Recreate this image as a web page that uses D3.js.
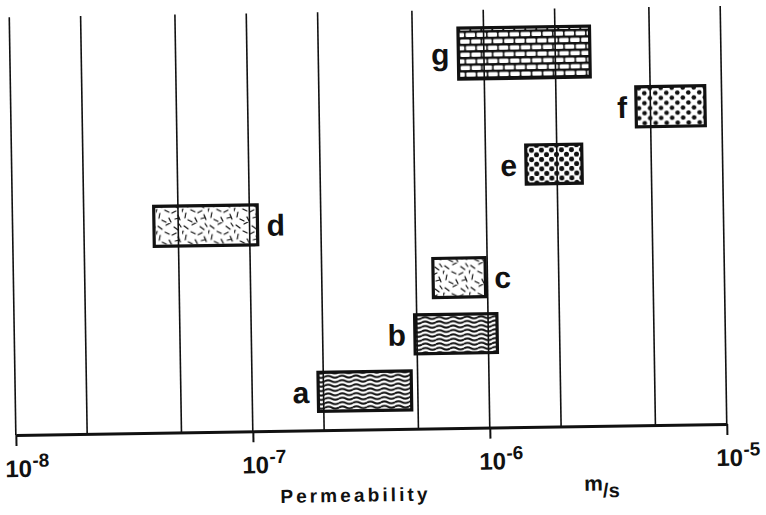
<!DOCTYPE html>
<html>
<head>
<meta charset="utf-8">
<script src="https://cdn.jsdelivr.net/npm/d3@7"></script>
<style>
  html, body { margin: 0; padding: 0; background: #fff; }
  svg { display: block; }
  text { font-family: "Liberation Sans", Arial, Helvetica, sans-serif; fill: #111; }
</style>
</head>
<body>
<svg id="chart" width="766" height="515"></svg>
<script>
// ---- data ----
const categories = ["a", "b", "c", "d", "e", "f", "g"];
const lowValues  = [1.9e-7, 4.9e-7, 5.9e-7, 3.95e-8, 1.48e-6, 4.35e-6, 7.8e-7];
const highValues = [4.7e-7, 1.09e-6, 9.8e-7, 1.08e-7, 2.55e-6, 8.5e-6, 2.8e-6];
const tickValues = [1e-8, 1e-7, 1e-6, 1e-5];
const tickExponents = ["-8", "-7", "-6", "-5"];
const gridValues = [1e-8, 2e-8, 5e-8, 1e-7, 2e-7, 5e-7, 1e-6, 2e-6, 5e-6, 1e-5];
const xTitle = "Permeability";
const unitMain = "m";
const unitRest = "/s";

// ---- layout / style ----
const axisY = 429.5, gridTop = 11.5;
const labelSide = { a: "left", b: "left", c: "right", d: "right", e: "left", f: "left", g: "left" };
const patternOf = { a: "wave", b: "wave", c: "straw", d: "straw", e: "dotsDense", f: "dots", g: "brick" };
const barH = { a: 39, b: 39, c: 39, d: 40, e: 39, f: 40, g: 51 };

const svg = d3.select("#chart");
const defs = svg.append("defs");

// wavy lines pattern
const pw = defs.append("pattern").attr("id", "wave").attr("patternUnits", "userSpaceOnUse")
  .attr("width", 14).attr("height", 4.4);
pw.append("rect").attr("width", 14).attr("height", 4.4).attr("fill", "#fff");
pw.append("path").attr("d", "M0,2.2 Q3.5,0.2 7,2.2 T14,2.2").attr("fill", "none")
  .attr("stroke", "#111").attr("stroke-width", 1.9);

// straw / random dash pattern
const ps = defs.append("pattern").attr("id", "straw").attr("patternUnits", "userSpaceOnUse")
  .attr("width", 26).attr("height", 22);
ps.append("rect").attr("width", 26).attr("height", 22).attr("fill", "#fff");
const strokes = [
  [2,3,6,6],[10,2,14,0],[18,4,22,7],[4,12,3,17],[9,9,13,11],[16,12,20,10],
  [22,14,24,19],[6,19,10,21],[13,17,15,21],[19,18,23,17],[1,8,0,11],[23,1,25,4]
];
strokes.forEach(s => ps.append("line").attr("x1", s[0]).attr("y1", s[1]).attr("x2", s[2]).attr("y2", s[3])
  .attr("stroke", "#111").attr("stroke-width", 1.2).attr("stroke-linecap", "round"));

// dot patterns
function dotPattern(id, w, h, r) {
  const p = defs.append("pattern").attr("id", id).attr("patternUnits", "userSpaceOnUse")
    .attr("width", w).attr("height", h);
  p.append("rect").attr("width", w).attr("height", h).attr("fill", "#fff");
  [[w / 4, h / 4], [3 * w / 4, 3 * h / 4]].forEach(c =>
    p.append("circle").attr("cx", c[0]).attr("cy", c[1]).attr("r", r).attr("fill", "#111"));
}
dotPattern("dotsDense", 10, 9.4, 2.5);
dotPattern("dots", 11, 10, 2.3);

// brick pattern
const pb = defs.append("pattern").attr("id", "brick").attr("patternUnits", "userSpaceOnUse")
  .attr("width", 22).attr("height", 13.2);
pb.append("rect").attr("width", 22).attr("height", 13.2).attr("fill", "#111");
[[1, 1.3], [12, 1.3], [-4.5, 7.9], [6.5, 7.9], [17.5, 7.9]].forEach(b =>
  pb.append("rect").attr("x", b[0]).attr("y", b[1]).attr("width", 9.5).attr("height", 4.3)
    .attr("rx", 1).attr("fill", "#fff"));

// ---- scales ----
const x = d3.scaleLog().domain([1e-8, 1e-5]).range([12.5, 723.5]);
const y = d3.scalePoint().domain(categories).range([391, 55]);

const g = svg.append("g").attr("transform", "rotate(-0.9, 370, 220)");

const bars = categories.map((c, i) => ({ c, lo: lowValues[i], hi: highValues[i] }));

// bar fills
g.append("g").selectAll("rect").data(bars).join("rect")
  .attr("x", d => x(d.lo)).attr("width", d => x(d.hi) - x(d.lo))
  .attr("y", d => y(d.c) - barH[d.c] / 2).attr("height", d => barH[d.c])
  .attr("fill", d => `url(#${patternOf[d.c]})`);

// grid lines
g.append("g").selectAll("line").data(gridValues).join("line")
  .attr("x1", d => x(d)).attr("x2", d => x(d))
  .attr("y1", gridTop).attr("y2", axisY)
  .attr("stroke", "#111").attr("stroke-width", 1.6);

// bar outlines
g.append("g").selectAll("rect").data(bars).join("rect")
  .attr("x", d => x(d.lo)).attr("width", d => x(d.hi) - x(d.lo))
  .attr("y", d => y(d.c) - barH[d.c] / 2).attr("height", d => barH[d.c])
  .attr("fill", "none").attr("stroke", "#111").attr("stroke-width", 3.2);

// bar letters
g.append("g").selectAll("text").data(bars).join("text")
  .attr("x", d => labelSide[d.c] === "left" ? x(d.lo) - 9 : x(d.hi) + 9)
  .attr("y", d => y(d.c) + 11)
  .attr("text-anchor", d => labelSide[d.c] === "left" ? "end" : "start")
  .attr("font-size", 30).attr("font-weight", "bold")
  .text(d => d.c);

// x axis
const axis = d3.axisBottom(x).tickValues(tickValues).tickSize(11).tickSizeOuter(0).tickFormat("");
const ax = g.append("g").attr("transform", `translate(0,${axisY})`).call(axis);
ax.select(".domain").attr("stroke", "#111").attr("stroke-width", 3);
ax.selectAll(".tick line").attr("stroke", "#111").attr("stroke-width", 2);

// tick labels 10^n
const tl = g.append("g").selectAll("text").data(tickValues).join("text")
  .attr("x", d => x(d) - 11).attr("y", axisY + 42)
  .attr("font-size", 24).attr("font-weight", "bold");
tl.append("tspan").text("10");
tl.append("tspan").attr("font-size", 19).attr("dy", -10).attr("dx", 0.5)
  .text((d, i) => tickExponents[i]);

// axis title
g.append("text").attr("x", 276).attr("y", 501.5)
  .attr("font-size", 19).attr("font-weight", "bold").attr("letter-spacing", 3.1)
  .text(xTitle);

// units
const u = g.append("text").attr("x", 580).attr("y", 494)
  .attr("font-size", 21).attr("font-weight", "bold");
u.append("tspan").text(unitMain);
u.append("tspan").attr("dy", 7).attr("font-size", 20).text(unitRest);
</script>
</body>
</html>
